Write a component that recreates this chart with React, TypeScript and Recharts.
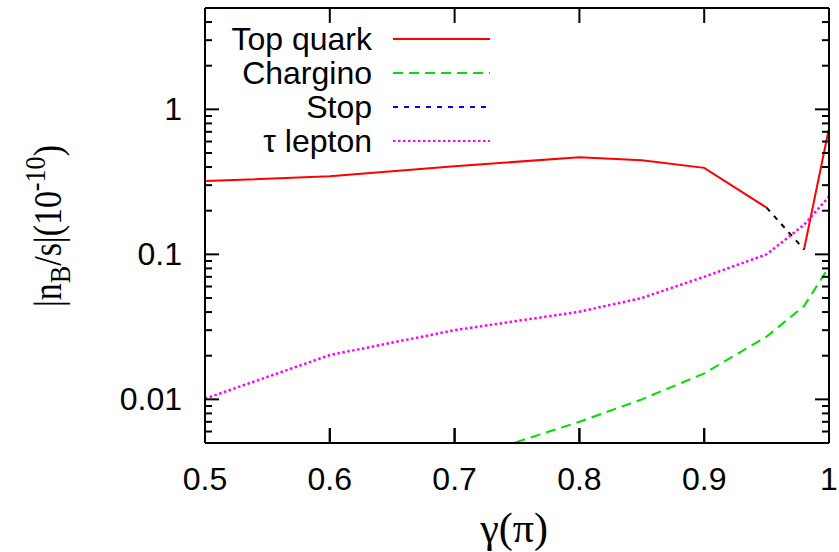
import { LineChart, Line, XAxis, YAxis, Legend, ReferenceLine } from 'recharts';

// gamma (in units of pi) and |n_B/s| (in 1e-10)
const topGamma = [0.5, 0.6, 0.7, 0.8, 0.85, 0.9, 0.95];
const topValues = [0.32, 0.345, 0.405, 0.468, 0.446, 0.395, 0.21];
const topTailGamma = [0.98, 1.0];
const topTailValues = [0.108, 0.74];
const stopGamma = [0.95, 0.98];
const stopValues = [0.21, 0.108];
const charginoGamma = [0.7, 0.8, 0.85, 0.9, 0.95, 0.98, 1.0];
const charginoValues = [0.0037, 0.007, 0.01, 0.0151, 0.0271, 0.044, 0.082];
const tauGamma = [0.5, 0.6, 0.7, 0.8, 0.85, 0.9, 0.95, 0.98, 1.0];
const tauValues = [0.0101, 0.0202, 0.03, 0.0402, 0.05, 0.07, 0.1, 0.16, 0.25];

const xTicks = [0.5, 0.6, 0.7, 0.8, 0.9, 1.0];
const yMajor = [0.01, 0.1, 1];
const yTicks = [
  0.006, 0.007, 0.008, 0.009,
  0.01, 0.02, 0.03, 0.04, 0.05, 0.06, 0.07, 0.08, 0.09,
  0.1, 0.2, 0.3, 0.4, 0.5, 0.6, 0.7, 0.8, 0.9,
  1, 2, 3, 4,
];

const legendItems = [
  { name: 'Top quark', color: '#ff0000', dash: undefined },
  { name: 'Chargino', color: '#00e000', dash: '10 6' },
  { name: 'Stop', color: '#0000ff', dash: '5 6' },
  { name: 'τ lepton', color: '#ff00ff', dash: '2.5 2.5' },
];

const Y_MIN = 0.005;
const Y_MAX = 5;
// inward x tick length, ~15px of a 145px decade
const TICK_FACTOR = Math.pow(10, 15 / 145.5);

const toPoints = (xs: number[], ys: number[]) => xs.map((x, i) => ({ x, y: ys[i] }));

const SANS = '"Liberation Sans", Arial, sans-serif';
const SERIF = '"Liberation Serif", "Times New Roman", serif';
const isMajor = (v: number) => yMajor.some((m) => Math.abs(m - v) < 1e-9);

// gnuplot-style frame: all tick marks point inwards
const BottomTick = ({ x, y, payload }: any) => (
  <g>
    <line x1={x} x2={x} y1={y} y2={y - 15} stroke="#000" strokeWidth={2} />
    <text x={x} y={y + 47} textAnchor="middle" fontFamily={SANS} fontSize={32} fill="#000">
      {String(payload.value)}
    </text>
  </g>
);

const TopTick = ({ x, y }: any) => (
  <line x1={x} x2={x} y1={y} y2={y + 15} stroke="#000" strokeWidth={2} />
);

const LeftTick = ({ x, y, payload }: any) => {
  const major = isMajor(payload.value);
  return (
    <g>
      <line x1={x} x2={x + (major ? 14 : 7)} y1={y} y2={y} stroke="#000" strokeWidth={2} />
      {major && (
        <text x={x - 23} y={y + 11} textAnchor="end" fontFamily={SANS} fontSize={32} fill="#000">
          {String(payload.value)}
        </text>
      )}
    </g>
  );
};

const RightTick = ({ x, y, payload }: any) => {
  const major = isMajor(payload.value);
  return <line x1={x} x2={x - (major ? 14 : 7)} y1={y} y2={y} stroke="#000" strokeWidth={2} />;
};

const YLabel = () => (
  <text
    transform="translate(61, 226) rotate(-90) scale(0.87, 1)"
    textAnchor="middle"
    fontFamily={SERIF}
    fontSize={39}
    fill="#000"
  >
    <tspan>|n</tspan>
    <tspan dy={9} fontSize={30}>B</tspan>
    <tspan dy={-9}>/s|(10</tspan>
    <tspan dy={-16} fontSize={30}>-10</tspan>
    <tspan dy={16}>)</tspan>
  </text>
);

const XLabel = () => (
  <text x={514} y={542} textAnchor="middle" fontFamily={SERIF} fontSize={42} fill="#000">
    γ(π)
  </text>
);

const LegendBox = () => (
  <svg width={300} height={140}>
    {legendItems.map((item, i) => {
      const cy = 19 + i * 34;
      return (
        <g key={item.name}>
          <text x={167} y={cy + 11} textAnchor="end" fontFamily={SANS} fontSize={32} fill="#000">
            {item.name}
          </text>
          <line x1={188} x2={285} y1={cy} y2={cy} stroke={item.color} strokeWidth={2} strokeDasharray={item.dash} />
        </g>
      );
    })}
  </svg>
);

export default function App() {
  const innerTicks = xTicks.slice(1, -1);
  return (
    <div style={{ position: 'absolute', left: 0, top: 0, background: '#fff' }}>
      <LineChart width={839} height={552} margin={{ top: 7, right: 9, bottom: 0, left: 0 }}>
        <XAxis
          dataKey="x"
          type="number"
          domain={[0.5, 1]}
          ticks={xTicks}
          interval={0}
          height={109}
          tickSize={0}
          tickMargin={0}
          tickLine={false}
          axisLine={{ stroke: '#000', strokeWidth: 2 }}
          tick={<BottomTick />}
          label={<XLabel />}
          allowDataOverflow
        />
        <XAxis
          xAxisId="top"
          orientation="top"
          dataKey="x"
          type="number"
          domain={[0.5, 1]}
          ticks={xTicks}
          interval={0}
          height={1}
          tickSize={0}
          tickMargin={0}
          tickLine={false}
          axisLine={{ stroke: '#000', strokeWidth: 2 }}
          tick={<TopTick />}
        />
        <YAxis
          scale="log"
          type="number"
          domain={[Y_MIN, Y_MAX]}
          ticks={yTicks}
          interval={0}
          width={205}
          tickSize={0}
          tickMargin={0}
          tickLine={false}
          axisLine={{ stroke: '#000', strokeWidth: 2 }}
          tick={<LeftTick />}
          label={<YLabel />}
          allowDataOverflow
        />
        <YAxis
          yAxisId="right"
          orientation="right"
          scale="log"
          type="number"
          domain={[Y_MIN, Y_MAX]}
          ticks={yTicks}
          interval={0}
          width={1}
          tickSize={0}
          tickMargin={0}
          tickLine={false}
          axisLine={{ stroke: '#000', strokeWidth: 2 }}
          tick={<RightTick />}
          allowDataOverflow
        />
        {innerTicks.map((g) => (
          <ReferenceLine
            key={`b${g}`}
            segment={[{ x: g, y: Y_MIN }, { x: g, y: Y_MIN * TICK_FACTOR }]}
            stroke="#000"
            strokeWidth={2}
            ifOverflow="visible"
          />
        ))}
        {innerTicks.map((g) => (
          <ReferenceLine
            key={`t${g}`}
            segment={[{ x: g, y: Y_MAX }, { x: g, y: Y_MAX / TICK_FACTOR }]}
            stroke="#000"
            strokeWidth={2}
            ifOverflow="visible"
          />
        ))}
        <Legend
          layout="vertical"
          align="center"
          verticalAlign="middle"
          content={<LegendBox />}
          wrapperStyle={{ left: 205, top: 20, width: 300, height: 140 }}
        />
        <Line
          data={toPoints(topGamma, topValues)}
          dataKey="y"
          name="Top quark"
          type="linear"
          stroke="#ff0000"
          strokeWidth={2}
          dot={false}
          isAnimationActive={false}
        />
        <Line
          data={toPoints(topTailGamma, topTailValues)}
          dataKey="y"
          name="Top quark (tail)"
          type="linear"
          stroke="#ff0000"
          strokeWidth={2}
          dot={false}
          legendType="none"
          isAnimationActive={false}
        />
        <Line
          data={toPoints(stopGamma, stopValues)}
          dataKey="y"
          name="Stop"
          type="linear"
          stroke="#000000"
          strokeWidth={2}
          strokeDasharray="5 6"
          dot={false}
          isAnimationActive={false}
        />
        <Line
          data={toPoints(charginoGamma, charginoValues)}
          dataKey="y"
          name="Chargino"
          type="linear"
          stroke="#00e000"
          strokeWidth={2}
          strokeDasharray="10 6"
          dot={false}
          isAnimationActive={false}
        />
        <Line
          data={toPoints(tauGamma, tauValues)}
          dataKey="y"
          name="τ lepton"
          type="linear"
          stroke="#ff00ff"
          strokeWidth={2.5}
          strokeDasharray="2.5 2.5"
          dot={false}
          isAnimationActive={false}
        />
      </LineChart>
    </div>
  );
}
